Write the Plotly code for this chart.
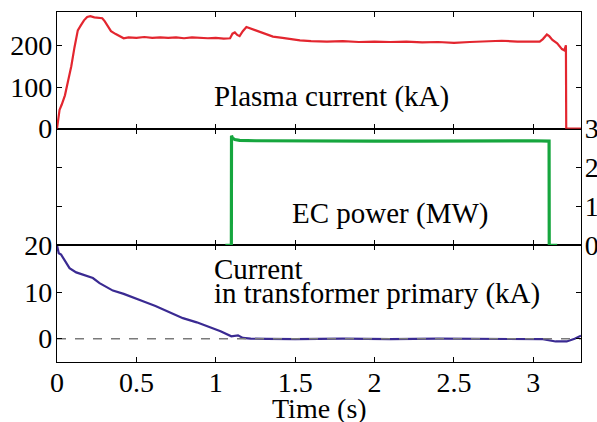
import plotly.graph_objects as go

# ---------------- data ----------------
ip_t = [0.0, 0.008, 0.016, 0.03, 0.05, 0.07, 0.09, 0.11, 0.131, 0.15, 0.17, 0.19, 0.21, 0.235,
        0.26, 0.285, 0.3, 0.32, 0.34, 0.37, 0.40, 0.42, 0.45, 0.50, 0.55, 0.60, 0.65, 0.70,
        0.75, 0.80, 0.85, 0.90, 0.95, 1.00, 1.05, 1.09, 1.105, 1.12, 1.135, 1.15, 1.17, 1.193,
        1.22, 1.26, 1.30, 1.36, 1.42, 1.48, 1.53, 1.60, 1.70, 1.80, 1.90, 2.00, 2.10, 2.20,
        2.30, 2.40, 2.50, 2.60, 2.70, 2.80, 2.90, 3.00, 3.04, 3.06, 3.085, 3.10, 3.12, 3.15,
        3.18, 3.195, 3.205, 3.207, 3.30]
ip_v = [0, 20, 45, 58, 80, 115, 150, 195, 236, 248, 260, 268, 270, 267,
        266, 265, 258, 246, 234, 227, 222, 217, 219, 218, 220, 218, 219, 218,
        219, 217, 219, 218, 217, 218, 216, 217, 228, 231, 225, 222, 234, 244,
        240, 234, 228, 221, 218, 214, 212, 210, 209, 210, 208, 209, 208, 209,
        207, 208, 206, 208, 209, 211, 209, 210, 209, 215, 226, 222, 213, 205,
        191, 188, 200, 0, 0]

ec_t = [1.06, 1.098, 1.099, 1.105, 1.12, 1.15, 1.25, 1.5, 1.75, 2.0, 2.25, 2.5, 2.75, 3.0,
        3.099, 3.10, 3.15]
ec_v = [0, 0, 2.82, 2.76, 2.72, 2.70, 2.69, 2.68, 2.69, 2.68, 2.68, 2.69, 2.68, 2.69,
        2.68, 0, 0]

tr_t = [0.0, 0.011, 0.026, 0.05, 0.079, 0.121, 0.17, 0.226, 0.268, 0.31, 0.352, 0.42,
        0.478, 0.55, 0.62, 0.689, 0.793, 0.88, 0.962, 1.03, 1.098, 1.14, 1.17, 1.22,
        1.32, 1.5, 1.8, 2.1, 2.4, 2.7, 3.0, 3.06, 3.14, 3.21, 3.26, 3.30]
tr_v = [20.0, 18.3, 18.0, 16.6, 15.1, 14.2, 13.6, 13.0, 11.9, 11.1, 10.3, 9.6,
        8.9, 7.9, 7.0, 6.0, 4.4, 3.5, 2.5, 1.6, 0.5, 0.7, 0.15, 0.0,
        -0.05, -0.1, 0.0, -0.1, 0.0, -0.05, 0.0, -0.1, -0.6, -0.6, 0.0, 0.65]

x_ticks = [0, 0.5, 1, 1.5, 2, 2.5, 3]
x_tick_labels = ["0", "0.5", "1", "1.5", "2", "2.5", "3"]
ip_ticks = [0, 100, 200]
ec_ticks = [0, 1, 2, 3]
tr_ticks = [0, 10, 20]

labels = {
    "ip": "Plasma current (kA)",
    "ec": "EC power (MW)",
    "tr1": "Current",
    "tr2": "in transformer primary (kA)",
    "xtitle": "Time (s)",
}

# ---------------- figure ----------------
FONT = "Liberation Serif, Times New Roman, serif"
FS = 28
AFS = 29

fig = go.Figure()
fig.add_trace(go.Scatter(x=ip_t, y=ip_v, mode="lines", line=dict(color="#e3262f", width=2.2),
                         xaxis="x3", yaxis="y3", showlegend=False))
fig.add_trace(go.Scatter(x=ec_t, y=ec_v, mode="lines", line=dict(color="#16a63e", width=3.2),
                         xaxis="x2", yaxis="y2", showlegend=False))
fig.add_trace(go.Scatter(x=tr_t, y=tr_v, mode="lines", line=dict(color="#3a2a92", width=2.2),
                         xaxis="x", yaxis="y", showlegend=False))
fig.add_trace(go.Scatter(x=[0, 3.3], y=[0, 0], mode="lines",
                         line=dict(color="#7a7a7a", width=1.5, dash="dash"),
                         xaxis="x", yaxis="y", showlegend=False))

axis_common = dict(showgrid=False, zeroline=False, showline=True, linecolor="black",
                   linewidth=1.2, ticks="inside", ticklen=5, tickwidth=1.3, tickcolor="black",
                   mirror="ticks", automargin=False,
                   tickfont=dict(family=FONT, size=FS, color="black"))

xr = [0, 3.3]
fig.update_layout(
    width=597, height=422,
    margin=dict(l=57, r=16, t=12, b=60, autoexpand=False),
    paper_bgcolor="white", plot_bgcolor="white",
    font=dict(family=FONT, size=FS, color="black"),
    xaxis=dict(axis_common, range=xr, anchor="y", tickvals=x_ticks, ticktext=x_tick_labels,
               ticklabelstandoff=-5),
    xaxis2=dict(axis_common, range=xr, anchor="y2", tickvals=x_ticks, showticklabels=False,
                matches="x"),
    xaxis3=dict(axis_common, range=xr, anchor="y3", tickvals=x_ticks, showticklabels=False,
                matches="x"),
    yaxis=dict(axis_common, domain=[0, 1/3], range=[-5, 20], tickvals=tr_ticks, anchor="x",
               ticklabelstandoff=-2),
    yaxis2=dict(axis_common, domain=[1/3, 2/3], range=[0, 3], tickvals=ec_ticks, side="right",
                anchor="x2", ticklabelstandoff=-3),
    yaxis3=dict(axis_common, domain=[2/3, 1], range=[0, 280], tickvals=ip_ticks, anchor="x3",
                ticklabelstandoff=-2),
)

ann_font = dict(family=FONT, size=AFS, color="black")
fig.add_annotation(x=0.993, y=77, xref="x3", yref="y3", text=labels["ip"], showarrow=False,
                   xanchor="left", yanchor="middle", font=ann_font, xshift=-3)
fig.add_annotation(x=1.483, y=0.81, xref="x2", yref="y2", text=labels["ec"], showarrow=False,
                   xanchor="left", yanchor="middle", font=ann_font, xshift=-2)
fig.add_annotation(x=0.993, y=14.9, xref="x", yref="y", text=labels["tr1"], showarrow=False,
                   xanchor="left", yanchor="middle", font=ann_font, xshift=-3)
fig.add_annotation(x=0.993, y=9.7, xref="x", yref="y", text=labels["tr2"], showarrow=False,
                   xanchor="left", yanchor="middle", font=ann_font, xshift=-3)
# x-axis title placed as annotation for precise position
fig.add_annotation(x=0.5, y=-46 / 350, xref="paper", yref="paper", text=labels["xtitle"],
                   showarrow=False, xanchor="center", yanchor="middle",
                   font=dict(family=FONT, size=FS, color="black"))

fig.write_html("out.html", config={"displayModeBar": False},
               post_script="document.body.style.margin='0';"
                           "document.body.style.overflow='hidden';")
